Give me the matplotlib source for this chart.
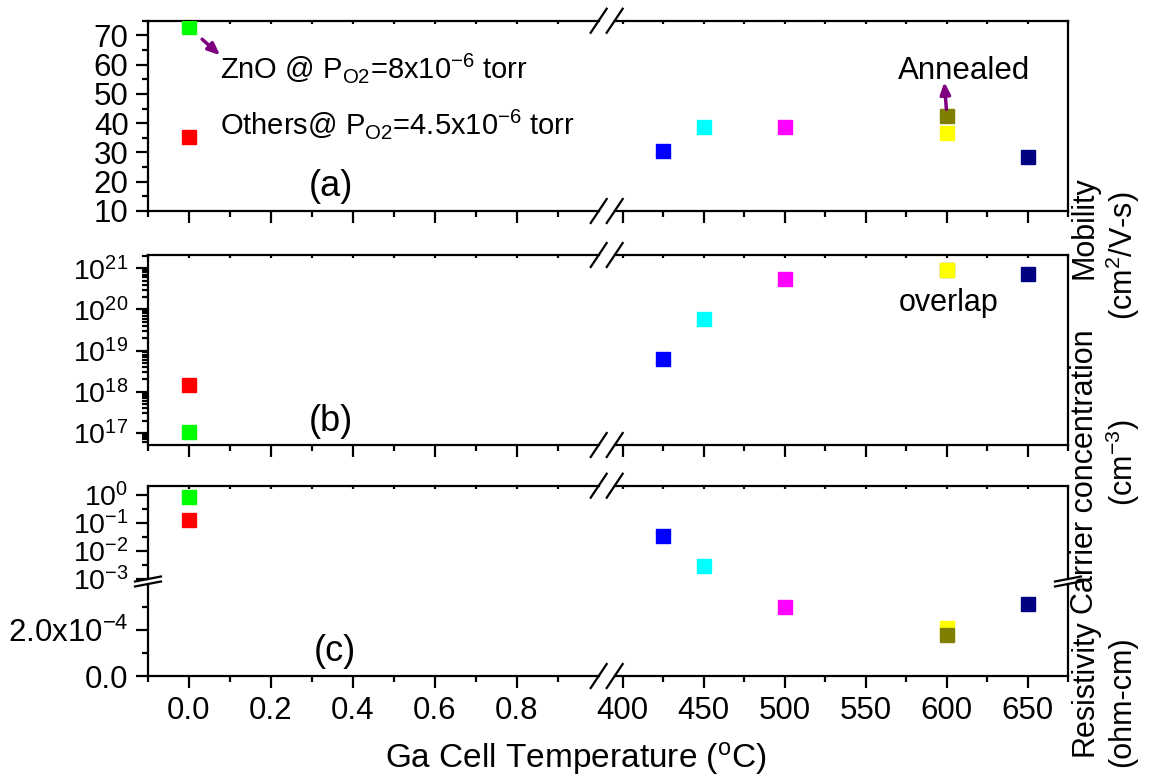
import matplotlib.pyplot as plt
from matplotlib.lines import Line2D
from matplotlib.ticker import FixedLocator, NullFormatter, LogLocator

plt.rcParams['font.family'] = ['Liberation Sans', 'DejaVu Sans']
plt.rcParams['mathtext.fontset'] = 'custom'
plt.rcParams['mathtext.rm'] = 'Liberation Sans'
plt.rcParams['mathtext.it'] = 'Liberation Sans:italic'
plt.rcParams['mathtext.default'] = 'regular'

# samples: undoped ZnO / others at 0, then Ga cell temperatures
samples = ['ZnO', 'Others', '425', '450', '500', '600', '600 annealed', '650']
ga_temp = [0.0, 0.0, 425, 450, 500, 600, 600, 650]
colors = ['#00ff00', '#ff0000', '#0000ff', '#00ffff', '#ff00ff', '#ffff00', '#808000', '#000080']

mobility = [72.8, 35.3, 30.4, 38.7, 38.7, 36.7, 42.5, 28.3]
carrier = [1.05e17, 1.5e18, 6.2e18, 5.9e19, 5.6e20, 8.9e20, 8.9e20, 7.4e20]
resistivity = [0.83, 0.13, 0.034, 0.0029, 2.99e-4, 2.07e-4, 1.78e-4, 3.13e-4]

left_ticks = [0.0, 0.2, 0.4, 0.6, 0.8]
left_minor = [-0.1, 0.1, 0.3, 0.5, 0.7, 0.9]
right_ticks = [400, 450, 500, 550, 600, 650]
right_minor = [425, 475, 525, 575, 625, 675]

W, H = 1152, 781
fig = plt.figure(figsize=(W / 100, H / 100), dpi=100)

XL0, XL1, XR0, XR1 = 148, 598.7, 614.7, 1068
TICK_FS = 22.5
LOG_FS = 20.5


def px_axes(x0, top, x1, bottom):
    return fig.add_axes([x0 / W, 1 - bottom / H, (x1 - x0) / W, (bottom - top) / H])


def make_pair(top, bottom):
    axl = px_axes(XL0, top, XL1, bottom)
    axr = px_axes(XR0, top, XR1, bottom)
    axl.spines['right'].set_visible(False)
    axr.spines['left'].set_visible(False)
    axl.set_xlim(-0.1, 1.0)
    axr.set_xlim(395, 675)
    axl.xaxis.set_major_locator(FixedLocator(left_ticks))
    axl.xaxis.set_minor_locator(FixedLocator(left_minor))
    axr.xaxis.set_major_locator(FixedLocator(right_ticks))
    axr.xaxis.set_minor_locator(FixedLocator(right_minor))
    for ax in (axl, axr):
        for s in ax.spines.values():
            s.set_linewidth(1.6)
        ax.tick_params(axis='x', which='major', direction='out', length=8.5, width=1.6,
                       top=True, labelsize=TICK_FS, pad=6)
        ax.tick_params(axis='x', which='minor', direction='out', length=4.5, width=1.6, top=True)
        ax.tick_params(axis='y', which='both', direction='out', width=1.6, labelsize=TICK_FS, pad=5.5)
        ax.tick_params(axis='y', which='major', length=8.5)
        ax.tick_params(axis='y', which='minor', length=4.5)
        ax.patch.set_alpha(0)
    axr.tick_params(axis='y', which='both', left=False, right=False, labelleft=False)
    return axl, axr


def topticks_in(ax):
    # small inward ticks on the top spine
    for t in ax.xaxis.get_major_ticks() + ax.xaxis.get_minor_ticks():
        t.tick2line.set_marker(3)
        t.tick2line.set_markersize(2.5)


def plot_points(axl, axr, values, order):
    for i in order:
        ax = axl if ga_temp[i] < 1 else axr
        ax.plot(ga_temp[i], values[i], 's', color=colors[i], mec=colors[i], ms=9.5, zorder=3)


# (a) mobility
a_l, a_r = make_pair(20.7, 211)
for ax in (a_l, a_r):
    ax.set_ylim(10, 75)
    ax.tick_params(axis='x', labelbottom=False)
a_l.set_yticks([10, 20, 30, 40, 50, 60, 70])
a_l.yaxis.set_minor_locator(FixedLocator([15, 25, 35, 45, 55, 65, 75]))
plot_points(a_l, a_r, mobility, range(8))

# (b) carrier concentration
b_l, b_r = make_pair(255, 445)
for ax in (b_l, b_r):
    ax.set_yscale('log')
    ax.set_ylim(5.1e16, 2.1e21)
    ax.tick_params(axis='x', labelbottom=False)
b_l.set_yticks([1e17, 1e18, 1e19, 1e20, 1e21])
b_l.set_yticklabels([r'$10^{%d}$' % e for e in range(17, 22)])
b_l.tick_params(axis='y', labelsize=LOG_FS)
b_l.yaxis.set_minor_locator(LogLocator(base=10, subs=range(2, 10), numticks=20))
b_l.yaxis.set_minor_formatter(NullFormatter())
b_r.tick_params(axis='y', which='both', left=False, labelleft=False)
plot_points(b_l, b_r, carrier, [0, 1, 2, 3, 4, 6, 5, 7])

# (c) resistivity, broken y axis: log on top, linear below
cl_l, cl_r = make_pair(485.7, 579)
c_l, c_r = make_pair(584, 676)
for ax in (cl_l, cl_r):
    ax.set_yscale('log')
    ax.set_ylim(1e-3, 10 ** 0.332)
    ax.spines['bottom'].set_visible(False)
    ax.tick_params(axis='x', which='both', bottom=False, labelbottom=False)
cl_l.set_yticks([1, 1e-1, 1e-2, 1e-3])
cl_l.set_yticklabels([r'$10^{0}$', r'$10^{-1}$', r'$10^{-2}$', r'$10^{-3}$'])
cl_l.tick_params(axis='y', labelsize=LOG_FS)
cl_l.yaxis.set_minor_locator(FixedLocator([10 ** -0.5, 10 ** -1.5, 10 ** -2.5]))
cl_l.yaxis.set_minor_formatter(NullFormatter())
cl_r.tick_params(axis='y', which='both', left=False, labelleft=False)
for ax in (c_l, c_r):
    ax.set_ylim(0, 4.0e-4)
    ax.spines['top'].set_visible(False)
    ax.tick_params(axis='x', which='both', top=False)
c_l.set_yticks([0, 2e-4])
c_l.set_yticklabels(['0.0', r'2.0x10$^{-4}$'])
c_l.yaxis.set_minor_locator(FixedLocator([1e-4, 3e-4]))
plot_points(cl_l, cl_r, resistivity, range(8))
plot_points(c_l, c_r, resistivity, range(8))

for ax in (a_l, a_r, b_l, b_r, cl_l, cl_r):
    topticks_in(ax)


# break marks on the x axis
def fig_line(xs, ys, **kw):
    fig.add_artist(Line2D([x / W for x in xs], [1 - y / H for y in ys],
                          color='black', lw=1.6, **kw))


for y in [20.7, 211, 255, 445, 485.7, 676]:
    for xc in (XL1, XR0):
        fig_line([xc - 8, xc + 8], [y + 12, y - 12])

# break marks on the y axis of (c)
for xc in (XL0, XR1):
    for y in (579, 584):
        fig_line([xc - 13, xc + 13], [y + 2.5, y - 2.5])

# annotations
arrow_kw = dict(arrowstyle='-|>,head_length=0.7,head_width=0.3', color='#7f007f', lw=2.5)
a_l.text(0.0756, 55.3, r'ZnO @ P$_{O2}$=8x10$^{-6}$ torr', fontsize=21, va='baseline', clip_on=False)
a_l.text(0.0756, 36.4, r'Others@ P$_{O2}$=4.5x10$^{-6}$ torr', fontsize=21, va='baseline', clip_on=False)
a_l.annotate('', xy=(0.081, 62.6), xytext=(0.027, 69.3), arrowprops=arrow_kw)
a_l.text(0.346, 18.5, '(a)', fontsize=26, ha='center', va='center')
a_r.text(611, 55.2, 'Annealed', fontsize=22.5, ha='center', va='baseline')
a_r.annotate('', xy=(598.5, 55.0), xytext=(600, 43.8), arrowprops=arrow_kw)
b_l.text(0.346, 1.9e17, '(b)', fontsize=26, ha='center', va='center')
b_r.text(601, 9.1e19, 'overlap', fontsize=22, ha='center', va='baseline')
c_l.text(0.356, 1.06e-4, '(c)', fontsize=26, ha='center', va='center')

fig.text(0.5, 0.029, r'Ga Cell Temperature ($^{o}$C)', fontsize=24, ha='center', va='center')

# right-hand axis titles
ttl = dict(fontsize=22, rotation=90, ha='center', va='center')
fig.text(0.9415, 0.708, 'Mobility', **ttl)
fig.text(0.9745, 0.672, r'(cm$^{2}$/V-s)', **ttl)
fig.text(0.9415, 0.396, 'Carrier concentration', **ttl)
fig.text(0.9745, 0.408, r'(cm$^{-3}$)', **ttl)
fig.text(0.9415, 0.119, 'Resistivity', **ttl)
fig.text(0.9745, 0.101, '(ohm-cm)', **ttl)

fig.savefig('out.png', dpi=100)
